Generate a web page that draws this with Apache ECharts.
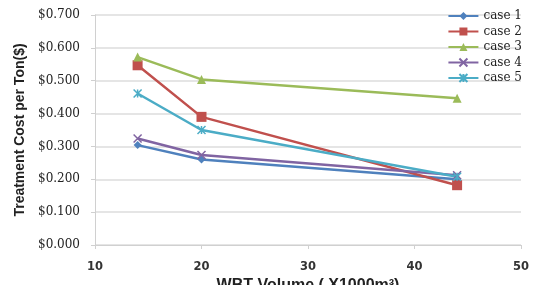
<!DOCTYPE html>
<html><head><meta charset="utf-8">
<script src="https://cdn.jsdelivr.net/npm/echarts@6/dist/echarts.min.js"></script>
<style>html,body{margin:0;padding:0;background:#fff}#c{width:535px;height:285px}</style>
</head><body><div id="c"></div>
<script>
const xVals = [14, 20, 44];
const seriesNames = ['case 1','case 2','case 3','case 4','case 5'];
const case1 = [0.304, 0.260, 0.200];
const case2 = [0.547, 0.390, 0.182];
const case3 = [0.572, 0.504, 0.447];
const case4 = [0.324, 0.274, 0.212];
const case5 = [0.461, 0.350, 0.208];
const colors = ['#4F81BD','#C0504D','#9BBB59','#8064A2','#4BACC6'];
const symbols = ['diamond','rect','triangle','path://M0,0L10,10M10,0L0,10','path://M0,0L10,10M10,0L0,10M5,0L5,10'];
const sizes = [8, 10, 9, 8, 8];
const all = [case1, case2, case3, case4, case5];

const chart = echarts.init(document.getElementById('c'));
chart.setOption({
  animation:false,
  grid:{left:95, right:14, top:15, bottom:40, containLabel:false, outerBoundsMode:'none'},
  legend:{
    orient:'vertical', right:8, top:5, itemGap:3.5, itemWidth:30, itemHeight:10,
    textStyle:{fontFamily:'DejaVu Serif', fontSize:12, color:'#222'},
    data:seriesNames
  },
  xAxis:{
    type:'value', min:10, max:50, interval:10,
    name:'WBT Volume ( X1000m³)', nameLocation:'middle', nameGap:29,
    nameTextStyle:{fontFamily:'Liberation Sans', fontWeight:'bold', fontSize:16, color:'#222'},
    axisLine:{show:true, lineStyle:{color:'#d0d0d0'}},
    axisTick:{show:true, length:4, lineStyle:{color:'#d0d0d0'}},
    axisLabel:{fontFamily:'DejaVu Sans', fontSize:11.5, color:'#333', fontWeight:'bold', margin:16},
    splitLine:{show:false}
  },
  yAxis:{
    type:'value', min:0, max:0.7, interval:0.1,
    name:'Treatment Cost per Ton($)', nameLocation:'middle', nameGap:68, nameRotate:90,
    nameTextStyle:{fontFamily:'Liberation Sans', fontWeight:'bold', fontSize:14, color:'#222'},
    axisLine:{show:true, lineStyle:{color:'#d0d0d0'}},
    axisTick:{show:true, length:4, lineStyle:{color:'#d0d0d0'}},
    axisLabel:{fontFamily:'DejaVu Serif', fontSize:12, color:'#222', margin:15,
      formatter:v=>'$'+v.toFixed(3)},
    splitLine:{lineStyle:{color:'#dcdcdc', width:1.5}}
  },
  series: all.map((d,i)=>({
    name:seriesNames[i], type:'line',
    data:d.map((v,j)=>[xVals[j], v]),
    symbol:symbols[i], symbolSize:sizes[i], showAllSymbol:true,
    lineStyle:{color:colors[i], width:2.5},
    itemStyle:{color:colors[i], borderColor:colors[i], borderWidth: i>=3 ? 1.5 : 0}
  }))
});
</script></body></html>
